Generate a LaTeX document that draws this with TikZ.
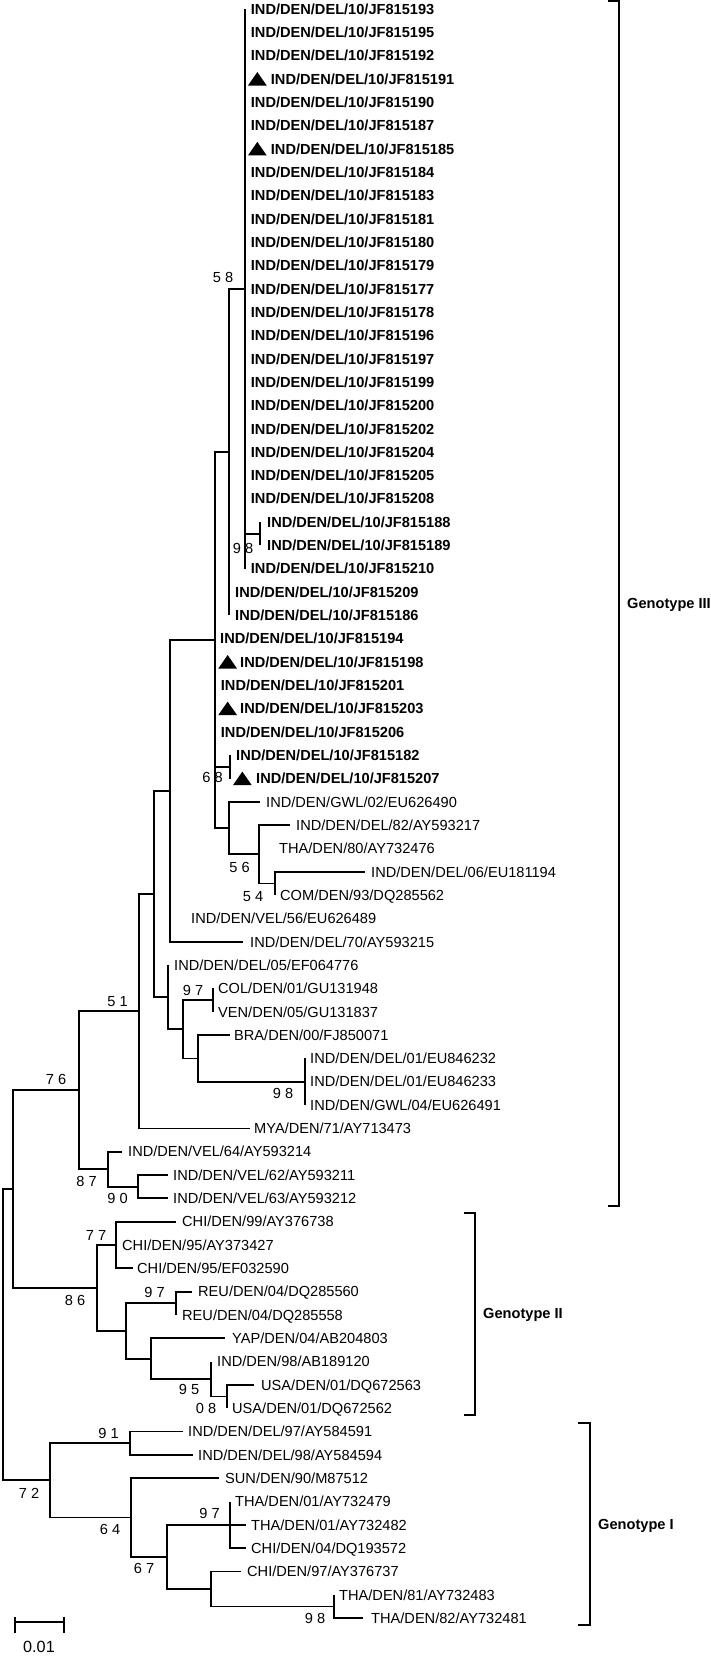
\documentclass[tikz,border=0pt]{standalone}
\usepackage{fontspec}
\setmainfont{Liberation Sans}
\newcommand\fs{\fontsize{14.6}{17}\selectfont}
\newcommand\tleaf[7]{\coordinate (t#1) at (#3,#4);\draw[br] (#2) |- (t#1);\node[#6] (L#1) at (#5,#4) {#7};}
\begin{document}
\begin{tikzpicture}[x=1pt,y=-1pt,
  br/.style={line width=1.8pt},
  lfb/.style={anchor=west,inner sep=0pt,text height=10.5pt,text depth=0pt,font=\fs\bfseries},
  lfr/.style={anchor=west,inner sep=0pt,text height=10.5pt,text depth=0pt,font=\fs},
  bs/.style={inner sep=0pt,text height=10.5pt,text depth=0pt,font=\fs},
  tri/.pic={\fill (0,6.5) -- (18.7,6.5) -- (9.35,-7) -- cycle;}]
\useasboundingbox (0,0) rectangle (711,1657);
% internal nodes
\coordinate (R) at (3,1334.7);
\coordinate (nA) at (13,1189.1);
\coordinate (n76) at (79,1090.2);
\coordinate (n51) at (139,1011.25);
\coordinate (nB) at (154,894.1);
\coordinate (nC) at (170,791.0);
\coordinate (nE) at (215,640.1);
\coordinate (nF) at (229,452.1);
\coordinate (n58) at (245,288.85);
\coordinate (n98a) at (260,533.7);
\coordinate (n68) at (230,766.9);
\coordinate (n56) at (229,828.1);
\coordinate (nH) at (259,854.35);
\coordinate (n54) at (275,883.5);
\coordinate (nD) at (168,997.2);
\coordinate (nI) at (183,1029.25);
\coordinate (n97a) at (213,1000.1);
\coordinate (nJ) at (198,1058.4);
\coordinate (n98b) at (305,1081.7);
\coordinate (n87) at (108,1169.2);
\coordinate (n90) at (138,1186.65);
\coordinate (n86) at (97,1288.0);
\coordinate (n77) at (116,1245.0);
\coordinate (nK) at (126,1330.95);
\coordinate (n97b) at (176,1303.25);
\coordinate (nL) at (151,1358.65);
\coordinate (n95) at (211,1379.1);
\coordinate (n08) at (227,1396.55);
\coordinate (G1) at (50,1480.3);
\coordinate (n91) at (130,1443.15);
\coordinate (n64) at (131,1517.5);
\coordinate (n67) at (167,1556.85);
\coordinate (n97c) at (230,1524.8);
\coordinate (nM) at (211,1588.9);
\coordinate (n98c) at (334,1606.45);
% internal connectors
\draw[br] (R) |- (nA); \draw[br] (R) |- (G1);
\draw[br] (nA) |- (n76); \draw[br] (nA) |- (n86);
\draw[br] (n76) |- (n51); \draw[br] (n76) |- (n87);
\draw[br] (n51) |- (nB);
\draw[br] (nB) |- (nC); \draw[br] (nB) |- (nD);
\draw[br] (nC) |- (nE);
\draw[br] (nE) |- (nF); \draw[br] (nE) |- (n68); \draw[br] (nE) |- (n56);
\draw[br] (nF) |- (n58);
\draw[br] (n58) |- (n98a);
\draw[br] (n56) |- (nH);
\draw[br] (nH) |- (n54);
\draw[br] (nD) |- (nI);
\draw[br] (nI) |- (n97a); \draw[br] (nI) |- (nJ);
\draw[br] (nJ) |- (n98b);
\draw[br] (n87) |- (n90);
\draw[br] (n86) |- (n77); \draw[br] (n86) |- (nK);
\draw[br] (nK) |- (n97b); \draw[br] (nK) |- (nL);
\draw[br] (nL) |- (n95);
\draw[br] (n95) |- (n08);
\draw[br] (G1) |- (n91); \draw[br] (G1) |- (n64);
\draw[br] (n64) |- (n67);
\draw[br] (n67) |- (n97c); \draw[br] (n67) |- (nM);
\draw[br] (nM) |- (n98c);
% leaves
\tleaf{1}{n58}{245}{9.0}{250.7}{lfb}{IND/DEN/DEL/10/JF815193}
\tleaf{2}{n58}{245}{32.3}{250.7}{lfb}{IND/DEN/DEL/10/JF815195}
\tleaf{3}{n58}{245}{55.6}{250.7}{lfb}{IND/DEN/DEL/10/JF815192}
\tleaf{4}{n58}{245}{79.0}{270.7}{lfb}{IND/DEN/DEL/10/JF815191}
\tleaf{5}{n58}{245}{102.3}{250.7}{lfb}{IND/DEN/DEL/10/JF815190}
\tleaf{6}{n58}{245}{125.6}{250.7}{lfb}{IND/DEN/DEL/10/JF815187}
\tleaf{7}{n58}{245}{148.9}{270.7}{lfb}{IND/DEN/DEL/10/JF815185}
\tleaf{8}{n58}{245}{172.2}{250.7}{lfb}{IND/DEN/DEL/10/JF815184}
\tleaf{9}{n58}{245}{195.6}{250.7}{lfb}{IND/DEN/DEL/10/JF815183}
\tleaf{10}{n58}{245}{218.9}{250.7}{lfb}{IND/DEN/DEL/10/JF815181}
\tleaf{11}{n58}{245}{242.2}{250.7}{lfb}{IND/DEN/DEL/10/JF815180}
\tleaf{12}{n58}{245}{265.5}{250.7}{lfb}{IND/DEN/DEL/10/JF815179}
\tleaf{13}{n58}{245}{288.8}{250.7}{lfb}{IND/DEN/DEL/10/JF815177}
\tleaf{14}{n58}{245}{312.2}{250.7}{lfb}{IND/DEN/DEL/10/JF815178}
\tleaf{15}{n58}{245}{335.5}{250.7}{lfb}{IND/DEN/DEL/10/JF815196}
\tleaf{16}{n58}{245}{358.8}{250.7}{lfb}{IND/DEN/DEL/10/JF815197}
\tleaf{17}{n58}{245}{382.1}{250.7}{lfb}{IND/DEN/DEL/10/JF815199}
\tleaf{18}{n58}{245}{405.4}{250.7}{lfb}{IND/DEN/DEL/10/JF815200}
\tleaf{19}{n58}{245}{428.8}{250.7}{lfb}{IND/DEN/DEL/10/JF815202}
\tleaf{20}{n58}{245}{452.1}{250.7}{lfb}{IND/DEN/DEL/10/JF815204}
\tleaf{21}{n58}{245}{475.4}{250.7}{lfb}{IND/DEN/DEL/10/JF815205}
\tleaf{22}{n58}{245}{498.7}{250.7}{lfb}{IND/DEN/DEL/10/JF815208}
\tleaf{23}{n98a}{260}{522.0}{267}{lfb}{IND/DEN/DEL/10/JF815188}
\tleaf{24}{n98a}{260}{545.4}{267}{lfb}{IND/DEN/DEL/10/JF815189}
\tleaf{25}{n58}{245}{568.7}{250.7}{lfb}{IND/DEN/DEL/10/JF815210}
\tleaf{26}{nF}{229}{592.0}{235}{lfb}{IND/DEN/DEL/10/JF815209}
\tleaf{27}{nF}{229}{615.3}{235}{lfb}{IND/DEN/DEL/10/JF815186}
\tleaf{28}{nE}{215}{638.6}{220}{lfb}{IND/DEN/DEL/10/JF815194}
\tleaf{29}{nE}{215}{662.0}{240}{lfb}{IND/DEN/DEL/10/JF815198}
\tleaf{30}{nE}{215}{685.3}{220.7}{lfb}{IND/DEN/DEL/10/JF815201}
\tleaf{31}{nE}{215}{708.6}{240}{lfb}{IND/DEN/DEL/10/JF815203}
\tleaf{32}{nE}{215}{731.9}{220.7}{lfb}{IND/DEN/DEL/10/JF815206}
\tleaf{33}{n68}{230}{755.2}{236}{lfb}{IND/DEN/DEL/10/JF815182}
\tleaf{34}{n68}{230}{778.6}{256}{lfb}{IND/DEN/DEL/10/JF815207}
\tleaf{35}{n56}{260}{801.9}{266}{lfr}{IND/DEN/GWL/02/EU626490}
\tleaf{36}{nH}{290}{825.2}{296}{lfr}{IND/DEN/DEL/82/AY593217}
\tleaf{37}{nH}{259}{848.5}{279}{lfr}{THA/DEN/80/AY732476}
\tleaf{38}{n54}{365}{871.8}{371}{lfr}{IND/DEN/DEL/06/EU181194}
\tleaf{39}{n54}{275}{895.2}{280}{lfr}{COM/DEN/93/DQ285562}
\tleaf{40}{nC}{170}{918.5}{191}{lfr}{IND/DEN/VEL/56/EU626489}
\tleaf{41}{nC}{243}{941.8}{250}{lfr}{IND/DEN/DEL/70/AY593215}
\tleaf{42}{nD}{168}{965.1}{174}{lfr}{IND/DEN/DEL/05/EF064776}
\tleaf{43}{n97a}{213}{988.4}{218}{lfr}{COL/DEN/01/GU131948}
\tleaf{44}{n97a}{213}{1011.8}{218}{lfr}{VEN/DEN/05/GU131837}
\tleaf{45}{nJ}{230}{1035.1}{234}{lfr}{BRA/DEN/00/FJ850071}
\tleaf{46}{n98b}{305}{1058.4}{310}{lfr}{IND/DEN/DEL/01/EU846232}
\tleaf{47}{n98b}{305}{1081.7}{310}{lfr}{IND/DEN/DEL/01/EU846233}
\tleaf{48}{n98b}{305}{1105.0}{310}{lfr}{IND/DEN/GWL/04/EU626491}
\tleaf{49}{n51}{250}{1128.4}{254}{lfr}{MYA/DEN/71/AY713473}
\tleaf{50}{n87}{122}{1151.7}{128}{lfr}{IND/DEN/VEL/64/AY593214}
\tleaf{51}{n90}{168}{1175.0}{173}{lfr}{IND/DEN/VEL/62/AY593211}
\tleaf{52}{n90}{168}{1198.3}{173}{lfr}{IND/DEN/VEL/63/AY593212}
\tleaf{53}{n77}{176}{1221.6}{182}{lfr}{CHI/DEN/99/AY376738}
\tleaf{54}{n77}{116}{1245.0}{122}{lfr}{CHI/DEN/95/AY373427}
\tleaf{55}{n77}{133}{1268.3}{137}{lfr}{CHI/DEN/95/EF032590}
\tleaf{56}{n97b}{192}{1291.6}{198}{lfr}{REU/DEN/04/DQ285560}
\tleaf{57}{n97b}{176}{1314.9}{182}{lfr}{REU/DEN/04/DQ285558}
\tleaf{58}{nL}{225}{1338.2}{232}{lfr}{YAP/DEN/04/AB204803}
\tleaf{59}{n95}{211}{1361.6}{217}{lfr}{IND/DEN/98/AB189120}
\tleaf{60}{n08}{254}{1384.9}{261}{lfr}{USA/DEN/01/DQ672563}
\tleaf{61}{n08}{227}{1408.2}{232}{lfr}{USA/DEN/01/DQ672562}
\tleaf{62}{n91}{183}{1431.5}{188}{lfr}{IND/DEN/DEL/97/AY584591}
\tleaf{63}{n91}{193}{1454.8}{198}{lfr}{IND/DEN/DEL/98/AY584594}
\tleaf{64}{n64}{219}{1478.2}{225}{lfr}{SUN/DEN/90/M87512}
\tleaf{65}{n97c}{230}{1501.5}{235}{lfr}{THA/DEN/01/AY732479}
\tleaf{66}{n97c}{246}{1524.8}{251}{lfr}{THA/DEN/01/AY732482}
\tleaf{67}{n97c}{246}{1548.1}{251}{lfr}{CHI/DEN/04/DQ193572}
\tleaf{68}{nM}{241}{1571.4}{247}{lfr}{CHI/DEN/97/AY376737}
\tleaf{69}{n98c}{334}{1594.8}{339}{lfr}{THA/DEN/81/AY732483}
\tleaf{70}{n98c}{363}{1618.1}{371}{lfr}{THA/DEN/82/AY732481}
% triangle markers
\pic (m4) at (248,79.0) {tri};
\pic (m7) at (248,148.9) {tri};
\pic (m29) at (218.3,662.0) {tri};
\pic (m31) at (218.3,708.6) {tri};
\pic (m34) at (233,778.6) {tri};
% bootstrap values
\node[bs] (b58) at (223,277) {5 8};
\node[bs] (b98a) at (243,548) {9 8};
\node[bs] (b68) at (212.5,777) {6 8};
\node[bs] (b56) at (239.5,867) {5 6};
\node[bs] (b54) at (253,896) {5 4};
\node[bs] (b97a) at (193,990) {9 7};
\node[bs] (b98b) at (283,1093) {9 8};
\node[bs] (b51) at (117.5,1001) {5 1};
\node[bs] (b76) at (56,1079) {7 6};
\node[bs] (b87) at (86.5,1181) {8 7};
\node[bs] (b90) at (117.5,1198) {9 0};
\node[bs] (b77) at (96,1235) {7 7};
\node[bs] (b86) at (75,1300) {8 6};
\node[bs] (b97b) at (154.5,1292) {9 7};
\node[bs] (b95) at (189,1389) {9 5};
\node[bs] (b08) at (206,1408) {0 8};
\node[bs] (b72) at (29,1493) {7 2};
\node[bs] (b91) at (108.5,1433) {9 1};
\node[bs] (b64) at (110,1529) {6 4};
\node[bs] (b67) at (144,1568) {6 7};
\node[bs] (b97c) at (209.5,1513) {9 7};
\node[bs] (b98c) at (315,1618) {9 8};
% scale bar
\draw[br] (15,1622) -- (64,1622);
\draw[br] (15,1617) -- (15,1633);
\draw[br] (64,1617) -- (64,1633);
\node[bs,font=\fontsize{16.2}{19}\selectfont,text height=11.6pt] (scl) at (39,1647) {0.01};
% genotype brackets
\draw[br] (608,1) -- (619,1) -- (619,1206) -- (608,1206);
\node[lfb] (g3) at (627,603) {Genotype III};
\draw[br] (464,1213) -- (475,1213) -- (475,1415) -- (464,1415);
\node[lfb] (g2) at (483,1313) {Genotype II};
\draw[br] (578,1423) -- (590,1423) -- (590,1625) -- (578,1625);
\node[lfb] (g1) at (598,1524) {Genotype I};
\end{tikzpicture}
\end{document}
